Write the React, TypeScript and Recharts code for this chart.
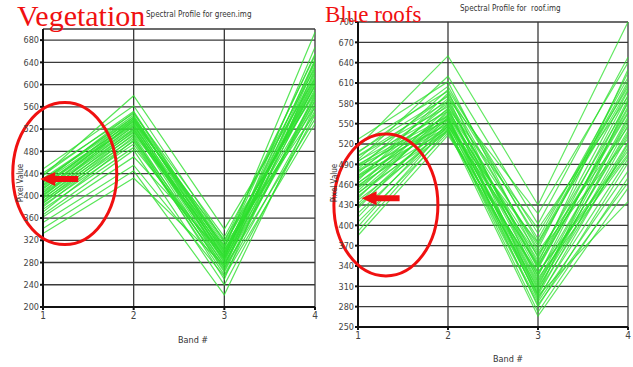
import { LineChart, Line, XAxis, YAxis, CartesianGrid, ReferenceDot } from 'recharts'

// pixel values per band, one entry per sampled pixel (vegetation / green.img)
const vegBand1 = [448, 441, 437, 436, 431, 429, 427, 425, 424, 421, 419, 418, 415, 413, 412, 409, 406, 405, 402, 401, 398, 396, 395, 392, 390, 388, 386, 383, 380, 376, 371, 366, 362, 352, 341, 332]
const vegBand2 = [562, 548, 552, 580, 541, 538, 545, 533, 550, 529, 536, 527, 542, 524, 531, 521, 539, 518, 526, 514, 535, 509, 520, 503, 516, 498, 511, 493, 506, 487, 500, 482, 470, 455, 445, 432]
const vegBand3 = [318, 326, 305, 340, 296, 312, 287, 321, 300, 279, 308, 292, 316, 274, 298, 284, 303, 269, 290, 310, 281, 263, 295, 276, 288, 258, 302, 271, 250, 286, 266, 240, 293, 255, 222, 275]
const vegBand4 = [652, 630, 694, 611, 642, 598, 667, 585, 623, 570, 655, 604, 588, 640, 576, 615, 560, 635, 592, 548, 620, 580, 607, 565, 645, 553, 597, 538, 628, 572, 583, 546, 610, 530, 560, 600]

// blue roofs / roof.img
const roofBand1 = [527, 519, 516, 509, 507, 503, 502, 497, 495, 494, 490, 488, 487, 483, 481, 480, 477, 474, 473, 470, 469, 466, 463, 462, 459, 456, 455, 451, 448, 447, 443, 440, 437, 432, 429, 425, 418, 412, 405, 398, 391, 385]
const roofBand2 = [612, 598, 650, 590, 605, 583, 575, 620, 568, 592, 561, 580, 556, 600, 571, 549, 587, 563, 545, 578, 558, 595, 552, 566, 543, 584, 557, 573, 540, 562, 548, 569, 538, 555, 546, 560, 542, 551, 536, 547, 541, 533]
const roofBand3 = [352, 318, 430, 297, 375, 336, 290, 402, 325, 361, 280, 344, 310, 388, 331, 299, 417, 358, 272, 340, 305, 380, 322, 348, 287, 365, 313, 395, 266, 338, 302, 370, 327, 293, 355, 316, 283, 342, 308, 374, 296, 330]
const roofBand4 = [598, 560, 700, 533, 612, 575, 520, 648, 586, 545, 492, 630, 557, 604, 510, 583, 640, 528, 470, 592, 548, 618, 502, 567, 480, 625, 540, 590, 455, 572, 515, 608, 552, 498, 580, 536, 463, 565, 522, 600, 435, 505]

const bandTicks = [1, 2, 3, 4]
const vegTicks = [200, 240, 280, 320, 360, 400, 440, 480, 520, 560, 600, 640, 680]
const roofTicks = [250, 280, 310, 340, 370, 400, 430, 460, 490, 520, 550, 580, 610, 640, 670, 700]

const tickFont = "'Liberation Sans Narrow', 'DejaVu Sans Condensed', Arial, sans-serif"
const serif = "'Liberation Serif', 'DejaVu Serif', serif"
const RED = '#f01010'
const GREEN = '#2ee02e'

function buildRows(bands: number[][]) {
  return bands.map((vals, i) => {
    const row: Record<string, number> = { band: i + 1 }
    vals.forEach((v, j) => {
      row['p' + j] = v
    })
    return row
  })
}

const ellipseShape = (rx: number, ry: number) => (p: any) => (
  <ellipse cx={p.cx} cy={p.cy} rx={rx} ry={ry} fill="none" stroke={RED} strokeWidth={3} />
)

// tip of the arrow sits at (cx, cy), pointing left
const arrowShape = (p: any) => {
  const x = p.cx
  const y = p.cy
  const pts = [
    [x, y],
    [x + 15, y - 7],
    [x + 15, y - 3],
    [x + 38, y - 3],
    [x + 38, y + 3],
    [x + 15, y + 3],
    [x + 15, y + 7],
  ]
  return <polygon points={pts.map((q) => q.join(',')).join(' ')} fill={RED} />
}

interface ProfileProps {
  bands: number[][]
  width: number
  height: number
  margin: { top: number; right: number; bottom: number; left: number }
  domain: [number, number]
  ticks: number[]
  circle: { x: number; y: number }
  arrow: { x: number; y: number }
  opacity: number
}

function ProfileChart({ bands, width, height, margin, domain, ticks, circle, arrow, opacity }: ProfileProps) {
  const rows = buildRows(bands)
  const keys = bands[0].map((_, j) => 'p' + j)
  return (
    <LineChart width={width} height={height} data={rows} margin={margin}>
      <CartesianGrid stroke="#3a3a3a" strokeWidth={1.3} />
      <XAxis
        dataKey="band"
        type="number"
        domain={[1, 4]}
        ticks={bandTicks}
        height={20}
        stroke="#111"
        strokeWidth={2}
        tickSize={3}
        tick={{ fontSize: 10, fill: '#444', fontFamily: tickFont }}
      />
      <YAxis
        domain={domain}
        ticks={ticks}
        width={43}
        stroke="#111"
        strokeWidth={2}
        tickSize={3}
        tickMargin={1}
        interval={0}
        tick={{ fontSize: 9, fill: '#444', fontFamily: tickFont }}
      />
      {keys.map((k) => (
        <Line
          key={k}
          dataKey={k}
          type="linear"
          stroke={GREEN}
          strokeWidth={1.2}
          strokeOpacity={opacity}
          dot={false}
          activeDot={false}
          isAnimationActive={false}
        />
      ))}
      <ReferenceDot x={circle.x} y={circle.y} ifOverflow="visible" shape={ellipseShape(52, 71)} />
      <ReferenceDot x={arrow.x} y={arrow.y} ifOverflow="visible" shape={arrowShape} />
    </LineChart>
  )
}

const smallText: React.CSSProperties = {
  position: 'absolute',
  fontFamily: tickFont,
  fontSize: 9,
  color: '#333',
  whiteSpace: 'nowrap',
}

export default function App() {
  return (
    <div style={{ position: 'absolute', left: 0, top: 0, width: 633, height: 367, background: '#fff', overflow: 'hidden' }}>
      <div style={{ position: 'absolute', left: 0, top: 0 }}>
        <ProfileChart
          bands={[vegBand1, vegBand2, vegBand3, vegBand4]}
          width={330}
          height={367}
          margin={{ top: 29, right: 15, bottom: 40, left: 0 }}
          domain={[200, 700]}
          ticks={vegTicks}
          circle={{ x: 1.24, y: 440 }}
          arrow={{ x: 0.97, y: 430 }}
          opacity={0.8}
        />
      </div>
      <div style={{ position: 'absolute', left: 315, top: 0 }}>
        <ProfileChart
          bands={[roofBand1, roofBand2, roofBand3, roofBand4]}
          width={318}
          height={367}
          margin={{ top: 22, right: 5, bottom: 20, left: 0 }}
          domain={[250, 700]}
          ticks={roofTicks}
          circle={{ x: 1.31, y: 430 }}
          arrow={{ x: 1.04, y: 440 }}
          opacity={0.75}
        />
      </div>

      <div style={{ ...smallText, left: 146, top: 10, fontSize: 8 }}>Spectral Profile for green.img</div>
      <div style={{ ...smallText, left: 460, top: 4, fontSize: 8 }}>Spectral Profile for &nbsp;roof.img</div>

      <div style={{ ...smallText, left: 20, top: 183, transform: 'translate(-50%, -50%) rotate(-90deg)', fontSize: 8 }}>Pixel Value</div>
      <div style={{ ...smallText, left: 334, top: 183, transform: 'translate(-50%, -50%) rotate(-90deg)', fontSize: 8 }}>Pixel Value</div>

      <div style={{ ...smallText, left: 178, top: 335 }}>Band #</div>
      <div style={{ ...smallText, left: 493, top: 354 }}>Band #</div>

      <div style={{ position: 'absolute', left: 17, top: -1, fontFamily: serif, fontSize: 30, color: RED, whiteSpace: 'nowrap' }}>
        Vegetation
      </div>
      <div style={{ position: 'absolute', left: 325, top: 2, fontFamily: serif, fontSize: 23, color: RED, whiteSpace: 'nowrap' }}>
        Blue roofs
      </div>
    </div>
  )
}
